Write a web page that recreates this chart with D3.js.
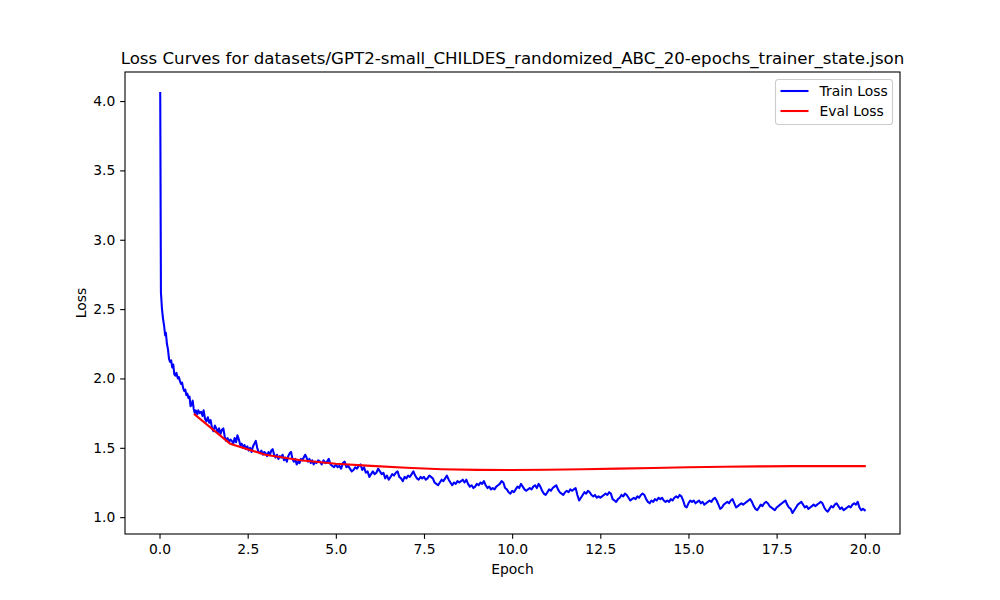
<!DOCTYPE html>
<html>
<head>
  <meta charset="utf-8">
  <script src="https://d3js.org/d3.v7.min.js"></script>
  <style>
    body { margin: 0; background: #fff; }
    svg text { font-family: "DejaVu Sans", sans-serif; fill: #000; }
  </style>
</head>
<body>
<script type="text/javascript">
// chart text
var chartTitle = "Loss Curves for datasets/GPT2-small_CHILDES_randomized_ABC_20-epochs_trainer_state.json";
var seriesNames = ["Train Loss", "Eval Loss"];
var xTicks = [0, 2.5, 5, 7.5, 10, 12.5, 15, 17.5, 20];
var yTicks = [1.0, 1.5, 2.0, 2.5, 3.0, 3.5, 4.0];

// eval loss, one point per epoch
var evalEpoch = [1, 2, 3, 4, 5, 6, 7, 8, 9, 10, 11, 12, 13, 14, 15, 16, 17, 18, 19, 20];
var evalLoss = [1.74, 1.53, 1.45, 1.41, 1.385, 1.37, 1.356, 1.346, 1.341, 1.34, 1.342, 1.346,
                1.35, 1.355, 1.36, 1.363, 1.366, 1.368, 1.368, 1.368];

// train loss [epoch, loss]
var trainLoss = [
  [0.02,4.058],[0.04,2.62],[0.07,2.50],[0.10,2.43],[0.13,2.38],[0.16,2.31],[0.18,2.33],[0.21,2.25],
  [0.24,2.21],[0.27,2.14],[0.30,2.12],[0.33,2.13],[0.36,2.08],[0.39,2.10],[0.42,2.03],[0.45,2.02],
  [0.48,2.04],[0.52,2.00],[0.55,2.01],[0.58,1.98],[0.61,1.96],[0.64,1.97],[0.67,1.93],[0.70,1.91],
  [0.73,1.92],[0.76,1.88],[0.79,1.89],[0.82,1.86],[0.85,1.87],[0.88,1.80],[0.91,1.81],[0.94,1.84],
  [0.97,1.78],[1.00,1.75],[1.03,1.77],[1.07,1.74],[1.10,1.77],[1.14,1.75],[1.18,1.76],[1.22,1.73],
  [1.25,1.77],[1.29,1.71],[1.33,1.69],[1.37,1.72],[1.41,1.68],[1.45,1.70],[1.49,1.64],[1.53,1.62],
  [1.57,1.66],[1.61,1.64],[1.65,1.61],[1.69,1.64],[1.73,1.60],[1.77,1.63],[1.81,1.64],[1.85,1.58],
  [1.89,1.55],[1.93,1.57],[1.97,1.54],[2.01,1.56],[2.05,1.55],[2.09,1.53],[2.13,1.57],[2.17,1.54],
  [2.21,1.59],[2.25,1.56],[2.29,1.52],[2.33,1.53],[2.37,1.50],[2.41,1.52],[2.45,1.49],[2.49,1.51],
  [2.53,1.48],[2.57,1.50],[2.61,1.47],[2.65,1.51],[2.69,1.53],[2.73,1.55],[2.77,1.50],[2.81,1.47],
  [2.85,1.46],[2.89,1.48],[2.93,1.45],[2.97,1.47],[3.01,1.46],[3.05,1.44],[3.09,1.47],[3.13,1.45],
  [3.17,1.48],[3.21,1.49],[3.25,1.45],[3.29,1.43],[3.33,1.45],[3.37,1.42],[3.41,1.44],[3.45,1.43],
  [3.49,1.45],[3.53,1.41],[3.57,1.43],[3.61,1.40],[3.65,1.44],[3.69,1.46],[3.73,1.47],[3.77,1.42],
  [3.81,1.40],[3.85,1.42],[3.89,1.38],[3.93,1.40],[3.97,1.39],[4.01,1.42],[4.05,1.41],[4.09,1.43],
  [4.13,1.45],[4.17,1.43],[4.21,1.40],[4.25,1.42],[4.29,1.39],[4.33,1.41],[4.37,1.38],[4.41,1.40],
  [4.45,1.39],[4.50,1.41],[4.55,1.40],[4.60,1.38],[4.65,1.41],[4.70,1.39],[4.75,1.40],[4.80,1.42],
  [4.85,1.38],[4.90,1.37],[4.95,1.36],[5.00,1.38],[5.05,1.36],[5.10,1.37],[5.15,1.35],[5.20,1.39],
  [5.25,1.40],[5.30,1.36],[5.35,1.37],[5.40,1.35],[5.45,1.33],[5.50,1.34],[5.55,1.36],[5.60,1.35],
  [5.65,1.37],[5.70,1.38],[5.75,1.34],[5.80,1.36],[5.85,1.32],[5.90,1.33],[5.95,1.29],[6.00,1.31],
  [6.05,1.33],[6.10,1.31],[6.15,1.32],[6.20,1.35],[6.25,1.33],[6.30,1.31],[6.35,1.32],[6.40,1.28],
  [6.45,1.30],[6.50,1.27],[6.55,1.29],[6.60,1.31],[6.65,1.30],[6.70,1.32],[6.75,1.33],[6.80,1.29],
  [6.85,1.28],[6.90,1.26],[6.95,1.29],[7.00,1.28],[7.05,1.30],[7.10,1.29],[7.15,1.31],[7.20,1.33],
  [7.25,1.30],[7.30,1.28],[7.35,1.27],[7.40,1.29],[7.45,1.28],[7.50,1.29],[7.55,1.27],[7.60,1.28],
  [7.65,1.30],[7.70,1.29],[7.75,1.28],[7.80,1.25],[7.85,1.24],[7.90,1.23],[7.95,1.25],[8.00,1.27],
  [8.05,1.26],[8.10,1.28],[8.15,1.30],[8.20,1.27],[8.25,1.25],[8.30,1.23],[8.35,1.25],[8.40,1.24],
  [8.45,1.26],[8.50,1.25],[8.55,1.26],[8.60,1.27],[8.65,1.25],[8.70,1.27],[8.75,1.24],[8.80,1.22],
  [8.85,1.23],[8.90,1.21],[8.95,1.22],[9.00,1.24],[9.05,1.23],[9.10,1.25],[9.15,1.24],[9.20,1.26],
  [9.25,1.23],[9.30,1.21],[9.35,1.22],[9.40,1.20],[9.45,1.21],[9.50,1.20],[9.55,1.22],[9.60,1.23],
  [9.65,1.24],[9.70,1.26],[9.75,1.25],[9.80,1.21],[9.85,1.20],[9.90,1.18],[9.95,1.17],[10.00,1.19],
  [10.05,1.18],[10.10,1.20],[10.15,1.22],[10.20,1.21],[10.25,1.24],[10.30,1.22],[10.35,1.20],[10.40,1.19],
  [10.45,1.20],[10.50,1.21],[10.55,1.20],[10.60,1.22],[10.65,1.23],[10.70,1.21],[10.75,1.24],[10.80,1.22],
  [10.85,1.19],[10.90,1.17],[10.95,1.16],[11.00,1.18],[11.05,1.20],[11.10,1.19],[11.15,1.21],[11.20,1.22],
  [11.25,1.23],[11.30,1.20],[11.35,1.18],[11.40,1.17],[11.45,1.16],[11.50,1.18],[11.55,1.19],[11.60,1.18],
  [11.65,1.20],[11.70,1.19],[11.75,1.20],[11.80,1.21],[11.85,1.16],[11.90,1.12],[11.95,1.14],[12.00,1.16],
  [12.05,1.18],[12.10,1.17],[12.15,1.19],[12.20,1.18],[12.25,1.16],[12.30,1.15],[12.35,1.16],[12.40,1.14],
  [12.45,1.15],[12.50,1.14],[12.55,1.15],[12.60,1.16],[12.65,1.17],[12.70,1.16],[12.75,1.18],[12.80,1.17],
  [12.85,1.13],[12.90,1.12],[12.95,1.11],[13.00,1.13],[13.05,1.14],[13.10,1.16],[13.15,1.15],[13.20,1.17],
  [13.25,1.16],[13.30,1.14],[13.35,1.12],[13.40,1.13],[13.45,1.14],[13.50,1.13],[13.55,1.15],[13.60,1.14],
  [13.65,1.16],[13.70,1.17],[13.75,1.16],[13.80,1.13],[13.85,1.11],[13.90,1.10],[13.95,1.12],[14.00,1.11],
  [14.05,1.13],[14.10,1.12],[14.15,1.14],[14.20,1.13],[14.25,1.14],[14.30,1.12],[14.35,1.11],[14.40,1.12],
  [14.45,1.11],[14.50,1.13],[14.55,1.12],[14.60,1.14],[14.65,1.15],[14.70,1.14],[14.75,1.16],[14.80,1.15],
  [14.85,1.12],[14.90,1.08],[14.95,1.07],[15.00,1.10],[15.05,1.12],[15.10,1.11],[15.15,1.12],[15.20,1.10],
  [15.25,1.11],[15.30,1.12],[15.35,1.10],[15.40,1.11],[15.45,1.09],[15.50,1.10],[15.55,1.11],[15.60,1.12],
  [15.65,1.11],[15.70,1.13],[15.75,1.14],[15.80,1.12],[15.85,1.09],[15.90,1.06],[15.95,1.07],[16.00,1.09],
  [16.05,1.10],[16.10,1.11],[16.15,1.10],[16.20,1.12],[16.25,1.13],[16.30,1.10],[16.35,1.07],[16.40,1.08],
  [16.45,1.09],[16.50,1.10],[16.55,1.09],[16.60,1.10],[16.65,1.11],[16.70,1.12],[16.75,1.13],[16.80,1.11],
  [16.85,1.08],[16.90,1.06],[16.95,1.05],[17.00,1.07],[17.05,1.09],[17.10,1.08],[17.15,1.10],[17.20,1.11],
  [17.25,1.10],[17.30,1.08],[17.35,1.07],[17.40,1.06],[17.45,1.05],[17.50,1.07],[17.55,1.08],[17.60,1.09],
  [17.65,1.10],[17.70,1.11],[17.75,1.12],[17.80,1.09],[17.85,1.07],[17.90,1.06],[17.95,1.03],[18.00,1.05],
  [18.05,1.07],[18.10,1.09],[18.15,1.10],[18.20,1.11],[18.25,1.09],[18.30,1.07],[18.35,1.08],[18.40,1.06],
  [18.45,1.07],[18.50,1.08],[18.55,1.09],[18.60,1.08],[18.65,1.09],[18.70,1.10],[18.75,1.11],[18.80,1.10],
  [18.85,1.07],[18.90,1.05],[18.95,1.04],[19.00,1.06],[19.05,1.08],[19.10,1.07],[19.15,1.09],[19.20,1.10],
  [19.25,1.08],[19.30,1.06],[19.35,1.07],[19.40,1.05],[19.45,1.06],[19.50,1.07],[19.55,1.08],[19.60,1.07],
  [19.65,1.09],[19.70,1.10],[19.75,1.09],[19.80,1.11],[19.85,1.07],[19.90,1.05],[19.95,1.06],[20.00,1.05]
];

var width = 1000,
    height = 600;
// matplotlib default subplot box (names avoid window.top)
var plotLeft = 125, plotRight = 900, plotTop = 72, plotBottom = 534;
var fontSize = "13.89px";  // 10pt at 100 dpi

var svg = d3.select("body").append("svg")
    .attr("width", width)
    .attr("height", height);

// 5% padding on both axes like matplotlib autoscale
var xExt = d3.extent(trainLoss, function (d) { return d[0]; });
var yExt = d3.extent(trainLoss.map(function (d) { return d[1]; }).concat(evalLoss));
var xPad = (xExt[1] - xExt[0]) * 0.05,
    yPad = (yExt[1] - yExt[0]) * 0.05;

var x = d3.scaleLinear().domain([xExt[0] - xPad, xExt[1] + xPad]).range([plotLeft, plotRight]);
var y = d3.scaleLinear().domain([yExt[0] - yPad, yExt[1] + yPad]).range([plotBottom, plotTop]);

// axes
var xAxis = svg.append("g")
    .attr("transform", "translate(0," + plotBottom + ")")
    .call(d3.axisBottom(x).tickValues(xTicks).tickFormat(d3.format(".1f")).tickSizeOuter(0).tickSize(4.86).tickPadding(4.86));
var yAxis = svg.append("g")
    .attr("transform", "translate(" + plotLeft + ",0)")
    .call(d3.axisLeft(y).tickValues(yTicks).tickFormat(d3.format(".1f")).tickSizeOuter(0).tickSize(4.86).tickPadding(4.86));

[xAxis, yAxis].forEach(function (a) {
  a.select(".domain").remove();
  a.selectAll("line").attr("stroke", "#000").attr("stroke-width", 1.1);
  a.selectAll("text").style("font-size", fontSize).attr("fill", "#000");
});

// lines
var line = d3.line()
    .x(function (d) { return x(d[0]); })
    .y(function (d) { return y(d[1]); });

svg.append("path")
    .datum(trainLoss)
    .attr("d", line)
    .attr("fill", "none")
    .attr("stroke", "#0000ff")
    .attr("stroke-width", 2.08)
    .attr("stroke-linejoin", "round")
    .attr("stroke-linecap", "square");

svg.append("path")
    .datum(evalEpoch.map(function (e, i) { return [e, evalLoss[i]]; }))
    .attr("d", line)
    .attr("fill", "none")
    .attr("stroke", "#ff0000")
    .attr("stroke-width", 2.08)
    .attr("stroke-linejoin", "round")
    .attr("stroke-linecap", "square");

// frame
svg.append("rect")
    .attr("x", plotLeft).attr("y", plotTop)
    .attr("width", plotRight - plotLeft).attr("height", plotBottom - plotTop)
    .attr("fill", "none")
    .attr("stroke", "#000")
    .attr("stroke-width", 1.1);

// title and axis labels
svg.append("text")
    .attr("x", (plotLeft + plotRight) / 2).attr("y", 64)
    .attr("text-anchor", "middle")
    .style("font-size", "16.67px")
    .text(chartTitle);

svg.append("text")
    .attr("x", (plotLeft + plotRight) / 2).attr("y", 574)
    .attr("text-anchor", "middle")
    .style("font-size", fontSize)
    .text("Epoch");

svg.append("text")
    .attr("transform", "translate(86," + (plotTop + plotBottom) / 2 + ") rotate(-90)")
    .attr("text-anchor", "middle")
    .style("font-size", fontSize)
    .text("Loss");

// legend
var legend = svg.append("g").attr("transform", "translate(775.5,79.5)");
legend.append("rect")
    .attr("width", 117).attr("height", 45)
    .attr("rx", 2.8).attr("ry", 2.8)
    .attr("fill", "#fff").attr("fill-opacity", 0.8)
    .attr("stroke", "#cccccc").attr("stroke-width", 1.1);

var colors = ["#0000ff", "#ff0000"];
legend.selectAll("g.item")
    .data(seriesNames)
    .enter()
    .append("g")
    .attr("class", "item")
    .attr("transform", function (d, i) { return "translate(0," + (11.5 + i * 20) + ")"; })
    .each(function (d, i) {
      var g = d3.select(this);
      g.append("line")
        .attr("x1", 5).attr("x2", 33)
        .attr("stroke", colors[i]).attr("stroke-width", 2.08);
      g.append("text")
        .attr("x", 44).attr("y", 5)
        .style("font-size", fontSize)
        .text(d);
    });
</script>
</body>
</html>
